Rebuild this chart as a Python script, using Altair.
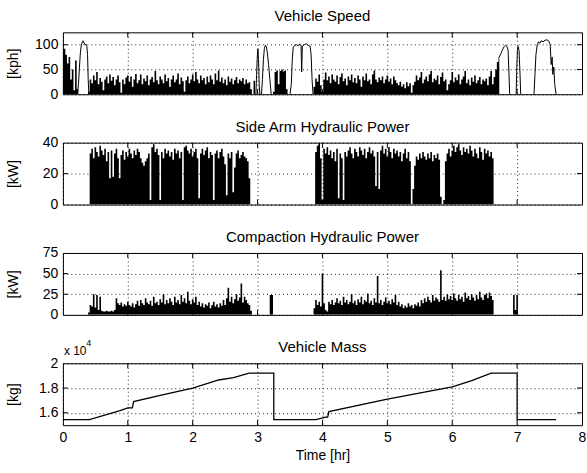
import altair as alt
import pandas as pd

# ---------------- data ----------------
STEP = 0.025  # hr between samples of the dense signals
XTICKS = [0, 1, 2, 3, 4, 5, 6, 7, 8]

# Vehicle speed [kph] - envelope of the busy (stop/go) parts, from t = 0.0
SPEED_BUSY_START = 0.0
SPEED_BUSY = [
    88, 92, 80, 62, 75, 30, 50, 8, 68, 10,
    0, 0, 0, 0, 0, 0, 5, 30, 22, 38,
    28, 45, 20, 33, 25, 8, 30, 36, 22, 40,
    27, 35, 18, 30, 38, 24, 3, 30, 20, 34,
    38, 25, 36, 15, 30, 41, 22, 28, 40, 20,
    32, 26, 38, 18, 30, 35, 24, 47, 28, 20,
    36, 30, 22, 40, 26, 33, 15, 30, 38, 24,
    30, 42, 20, 34, 26, 5, 28, 36, 22, 30,
    40, 26, 45, 30, 22, 38, 28, 33, 20, 36,
    24, 38, 30, 20, 42, 28, 48, 25, 34, 22,
    30, 18, 36, 25, 32, 20, 28, 35, 22, 30,
    26, 33, 20, 30, 22, 24, 10, 0, 27, 0,
    0, 0, 0, 0, 0, 0, 0, 0, 0, 0,
    5, 45, 48, 20, 47, 50, 46, 48, 10, 0,
    0, 0, 0, 0, 0, 0, 0, 0, 0, 0,
    0, 0, 0, 0, 0, 15, 32, 25, 40, 18,
    5, 30, 44, 28, 36, 22, 40, 30, 25, 38,
    20, 35, 42, 26, 32, 18, 36, 28, 40, 24,
    33, 22, 38, 30, 15, 36, 28, 42, 26, 30,
    20, 40, 48, 30, 24, 34, 28, 36, 22, 30,
    38, 25, 32, 20, 36, 28, 22, 18, 25, 15,
    20, 12, 24, 16, 22, 3, 18, 25, 38, 28,
    34, 45, 22, 30, 36, 26, 40, 47, 24, 32,
    28, 38, 20, 35, 44, 26, 30, 8, 20, 28,
    45, 24, 34, 28, 40, 20, 30, 36, 47, 22,
    30, 18, 34, 25, 38, 22, 28, 35, 20, 30,
    26, 32, 18, 36, 47, 20, 35, 50, 65, 75,
]

# Vehicle speed - smooth highway stretches (drawn as lines)
ROAD_A_T = [0.225, 0.24, 0.255, 0.27, 0.285, 0.3, 0.31, 0.325, 0.34, 0.355, 0.37, 0.38, 0.39, 0.4]
ROAD_A_V = [0, 20, 55, 85, 100, 106, 108, 104, 100, 101, 96, 80, 30, 0]
ROAD_B_T = [2.975, 2.985, 2.995, 3.005, 3.015, 3.025, 3.035, 3.06, 3.075, 3.09, 3.105, 3.12, 3.135, 3.15, 3.17, 3.19, 3.21]
ROAD_B_V = [0, 40, 75, 92, 70, 20, 0, 0, 30, 70, 92, 99, 96, 85, 60, 30, 0]
ROAD_C_T = [3.5, 3.52, 3.535, 3.55, 3.575, 3.6, 3.625, 3.65, 3.67, 3.68, 3.69, 3.72, 3.75, 3.78, 3.81, 3.825, 3.84, 3.855]
ROAD_C_V = [0, 20, 70, 95, 99, 100, 98, 101, 99, 45, 97, 100, 102, 99, 97, 80, 30, 0]
ROAD_D_T = [6.725, 6.75, 6.775, 6.8, 6.82, 6.84, 6.86, 6.875, 6.885]
ROAD_D_V = [75, 82, 90, 96, 99, 97, 90, 40, 0]
ROAD_E_T = [6.985, 6.995, 7.005, 7.015, 7.03, 7.045, 7.055]
ROAD_E_V = [0, 55, 90, 97, 88, 40, 0]
ROAD_F_T = [7.26, 7.275, 7.29, 7.31, 7.33, 7.35, 7.37, 7.4, 7.43, 7.46, 7.49, 7.51, 7.525, 7.54, 7.55, 7.565, 7.58, 7.6]
ROAD_F_V = [0, 40, 80, 100, 106, 103, 108, 106, 109, 110, 107, 100, 60, 75, 40, 55, 20, 0]

# Side arm hydraulic power [kW]
SIDE_ARM_1_START = 0.4
SIDE_ARM_1 = [
    0, 33, 36, 30, 37, 34, 31, 38, 35, 32,
    36, 28, 34, 17, 35, 18, 33, 36, 30, 17,
    32, 35, 29, 34, 31, 36, 33, 30, 35, 32,
    36, 34, 30, 27, 25, 28, 30, 33, 3, 37,
    39, 34, 36, 32, 3, 34, 30, 36, 33, 35,
    31, 34, 29, 36, 33, 35, 30, 34, 3, 37,
    38, 35, 33, 36, 31, 34, 36, 30, 4, 33,
    36, 32, 35, 37, 30, 34, 32, 3, 33, 35,
    30, 34, 36, 31, 26, 6, 33, 30, 34, 8,
    24, 33, 35, 30, 32, 34, 31, 30, 28, 17,
    0,
]
SIDE_ARM_2_START = 3.875
SIDE_ARM_2 = [
    0, 34, 38, 40, 30, 3, 36, 33, 37, 32,
    35, 30, 34, 28, 36, 4, 33, 30, 3, 34,
    31, 35, 37, 33, 30, 36, 34, 31, 37, 35,
    32, 36, 30, 34, 37, 33, 35, 31, 12, 34,
    10, 35, 38, 33, 36, 31, 37, 34, 30, 36,
    33, 35, 31, 34, 28, 33, 36, 30, 34, 28,
    0, 10, 25, 31, 29, 33, 30, 34, 31, 29,
    33, 30, 34, 28, 32, 30, 33, 29, 5, 0,
    3, 28, 33, 36, 31, 35, 38, 34, 37, 39,
    35, 32, 37, 34, 36, 33, 38, 35, 31, 36,
    33, 30, 37, 34, 29, 36, 33, 35, 31, 34,
    30, 0,
]

# Compaction hydraulic power [kW]
COMPACTION_1_START = 0.375
COMPACTION_1 = [
    0, 3, 12, 10, 25, 9, 24, 6, 22, 5,
    4, 4, 5, 4, 4, 5, 4, 6, 20, 14,
    12, 15, 10, 13, 11, 16, 12, 10, 14, 9,
    13, 17, 11, 18, 14, 12, 20, 15, 13, 17,
    11, 22, 14, 16, 12, 19, 15, 25, 13, 18,
    14, 20, 16, 12, 22, 15, 18, 13, 24, 16,
    20, 14, 28, 17, 13, 19, 15, 22, 12, 16,
    10, 14, 9, 13, 11, 15, 8, 12, 16, 10,
    13, 9, 14, 11, 18, 12, 20, 33, 16, 22,
    14, 19, 25, 17, 21, 38, 15, 22, 18, 14,
    12, 5, 0, 0, 0, 0, 0, 0, 0, 0,
    0, 0, 0, 24, 24, 0, 0,
]
COMPACTION_2_START = 3.85
COMPACTION_2 = [
    0, 8, 18, 12, 16, 10, 50, 14, 6, 4,
    16, 13, 18, 12, 15, 20, 14, 17, 12, 22,
    15, 18, 13, 16, 25, 14, 17, 12, 19, 15,
    22, 13, 18, 16, 26, 14, 17, 12, 20, 15,
    47, 14, 18, 12, 16, 21, 14, 17, 13, 19,
    15, 24, 12, 16, 10, 13, 8, 11, 9, 14,
    10, 12, 8, 13, 11, 15, 10, 18, 14, 20,
    16, 22, 18, 15, 24, 17, 21, 19, 16, 54,
    18, 22, 17, 25, 19, 23, 18, 26, 20, 17,
    24, 19, 22, 16, 27, 20, 23, 18, 25, 21,
    17, 24, 19, 28, 21, 18, 24, 26, 20, 27,
    23, 18, 0, 0, 0, 0, 0, 0, 0, 0,
    0, 0, 0, 0, 24, 6, 24, 0,
]

# Vehicle mass [kg]
MASS_T = [0, 0.41, 0.88, 1.0, 1.07, 1.09, 1.5, 2.0, 2.4, 2.63, 2.87, 3.25, 3.25,
          3.9, 4.05, 4.08, 4.1, 5.0, 6.0, 6.3, 6.6, 7.0, 7.0, 7.6]
MASS_KG = [15450, 15450, 16180, 16400, 16400, 16900, 17400, 18000, 18650, 18850, 19200, 19200, 15450,
           15450, 15650, 15650, 16100, 17100, 18100, 18600, 19200, 19200, 15450, 15450]

TITLES = ["Vehicle Speed", "Side Arm Hydraulic Power", "Compaction Hydraulic Power", "Vehicle Mass"]

# ---------------- chart ----------------
FONT = "Liberation Sans"
W, H = 520, 62


def busy_frame(start, values):
    return pd.DataFrame({"t": [start + i * STEP for i in range(len(values))], "v": values})


def path_frame(segments):
    rows = []
    for s, (ts, vs) in enumerate(segments):
        for i, (t, v) in enumerate(zip(ts, vs)):
            rows.append({"t": t, "v": v, "seg": s, "i": i})
    return pd.DataFrame(rows)


x_scale = alt.Scale(domain=[0, 8], nice=False, zero=False)


def x_enc(bottom):
    if bottom:
        axis = alt.Axis(values=XTICKS, grid=True, labels=True, title="Time [hr]",
                        titleY=30, titleBaseline="middle")
    else:
        axis = alt.Axis(values=XTICKS, grid=True, labels=False, title=None)
    return alt.X("t:Q", scale=x_scale, axis=axis)


def y_enc(domain, ticks, title, label_expr=None):
    kw = dict(values=ticks, grid=True, title=title)
    if label_expr:
        kw["labelExpr"] = label_expr
    return alt.Y("v:Q", scale=alt.Scale(domain=domain, nice=False, zero=False), axis=alt.Axis(**kw))


def tick_layers(X, Y, inner_y):
    xt = pd.DataFrame({"t": XTICKS[1:-1]})
    yt = pd.DataFrame({"v": inner_y})
    bx = alt.Chart(xt).mark_rule(color="black", strokeWidth=1)
    by = alt.Chart(yt).mark_rule(color="black", strokeWidth=1)
    return [
        bx.encode(x=X, y=alt.value(0), y2=alt.value(5)),
        bx.encode(x=X, y=alt.value(H), y2=alt.value(H - 5)),
        by.encode(y=Y, x=alt.value(0), x2=alt.value(5)),
        by.encode(y=Y, x=alt.value(W - 5), x2=alt.value(W)),
    ]


def title_layer(text):
    return alt.Chart(pd.DataFrame({"s": [text]})).mark_text(
        align="center", baseline="alphabetic", fontSize=15, font=FONT, color="black"
    ).encode(x=alt.value(W / 2), y=alt.value(-11), text="s:N")


def area(df, X, Y):
    return alt.Chart(df).mark_area(color="black", interpolate="step", clip=True).encode(x=X, y=Y)


# Panel 1: speed
X1 = x_enc(False)
Y1 = y_enc([0, 125], [0, 50, 100], "[kph]")
roads = path_frame([(ROAD_A_T, ROAD_A_V), (ROAD_B_T, ROAD_B_V), (ROAD_C_T, ROAD_C_V),
                    (ROAD_D_T, ROAD_D_V), (ROAD_E_T, ROAD_E_V), (ROAD_F_T, ROAD_F_V)])
p1 = alt.layer(
    area(busy_frame(SPEED_BUSY_START, SPEED_BUSY), X1, Y1),
    alt.Chart(roads).mark_line(color="black", strokeWidth=1, clip=True).encode(
        x=X1, y=Y1, detail="seg:N", order="i:Q"),
    *tick_layers(X1, Y1, [50, 100]),
    title_layer(TITLES[0]),
).properties(width=W, height=H)

# Panel 2: side arm
X2 = x_enc(False)
Y2 = y_enc([0, 40], [0, 20, 40], "[kW]")
side = pd.concat([busy_frame(SIDE_ARM_1_START, SIDE_ARM_1), busy_frame(SIDE_ARM_2_START, SIDE_ARM_2)])
p2 = alt.layer(
    area(side, X2, Y2),
    *tick_layers(X2, Y2, [20]),
    title_layer(TITLES[1]),
).properties(width=W, height=H)

# Panel 3: compaction
X3 = x_enc(False)
Y3 = y_enc([0, 75], [0, 25, 50, 75], "[kW]")
comp = pd.concat([busy_frame(COMPACTION_1_START, COMPACTION_1), busy_frame(COMPACTION_2_START, COMPACTION_2)])
p3 = alt.layer(
    area(comp, X3, Y3),
    *tick_layers(X3, Y3, [25, 50]),
    title_layer(TITLES[2]),
).properties(width=W, height=H)

# Panel 4: mass
X4 = x_enc(True)
Y4 = y_enc([15000, 20000], [16000, 18000, 20000], "[kg]", "datum.value / 10000")
mass = pd.DataFrame({"t": MASS_T, "v": MASS_KG, "i": list(range(len(MASS_T)))})
exp_df = pd.DataFrame({"s": ["x 10"], "e": ["4"]})
p4 = alt.layer(
    alt.Chart(mass).mark_line(color="black", strokeWidth=1.3, clip=True).encode(x=X4, y=Y4, order="i:Q"),
    *tick_layers(X4, Y4, [16000, 18000]),
    alt.Chart(exp_df).mark_text(align="left", baseline="alphabetic", fontSize=12, font=FONT, color="black").encode(
        x=alt.value(1), y=alt.value(-8.5), text="s:N"),
    alt.Chart(exp_df).mark_text(align="left", baseline="alphabetic", fontSize=9, font=FONT, color="black").encode(
        x=alt.value(23.5), y=alt.value(-17), text="e:N"),
    title_layer(TITLES[3]),
).properties(width=W, height=H)

chart = alt.vconcat(p1, p2, p3, p4, spacing=48.5, bounds="flush").properties(
    padding={"left": 6, "top": 8, "right": 0, "bottom": 5},
    background="white",
).configure(font=FONT).configure_view(
    stroke="black", strokeWidth=1, fill="white"
).configure_axis(
    domain=False, ticks=False, grid=True, gridColor="black", gridDash=[1, 3], gridOpacity=0.85, gridWidth=1,
    labelFont=FONT, labelFontSize=14, labelColor="black", labelPadding=5, labelFlush=False, labelOverlap=False,
    titleFont=FONT, titleFontSize=14, titleFontWeight="normal", titleColor="black",
).configure_axisY(
    titleX=-49.5, titleBaseline="middle"
)

chart.save("out.html", embed_options={"renderer": "svg", "actions": False})
